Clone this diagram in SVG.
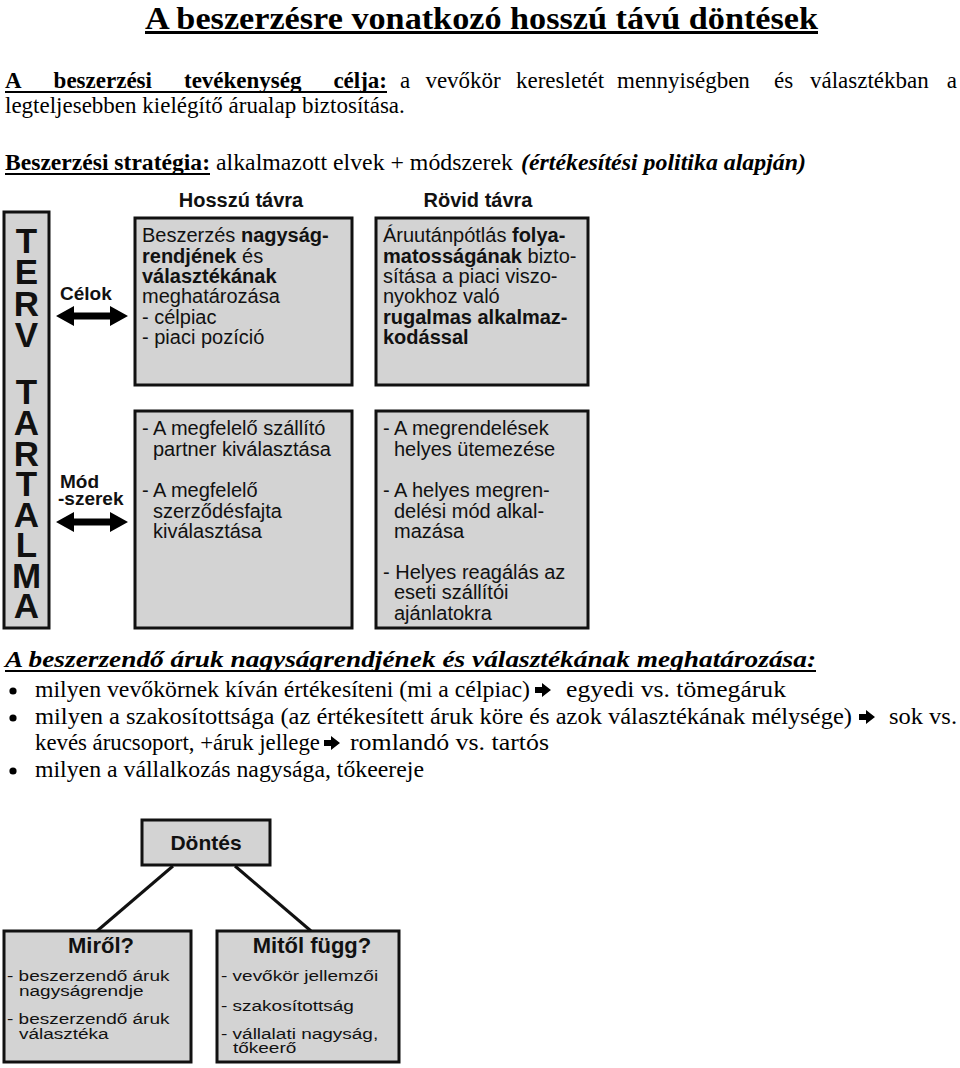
<svg xmlns="http://www.w3.org/2000/svg" width="960" height="1068" viewBox="0 0 960 1068">
<style>
.ser{font-family:"Liberation Serif","Times New Roman",serif;font-size:23px;fill:#000}
.b{font-weight:bold}
.i{font-style:italic}
.ar{font-family:"Liberation Sans",Arial,sans-serif;font-size:20px;fill:#111}
.sm{font-family:"Liberation Sans",Arial,sans-serif;font-size:19px;fill:#111}
.box{fill:#d3d3d3;stroke:#111;stroke-width:3}
.ln{stroke:#111;stroke-width:3;fill:none}
.dbl{fill:#000}
</style>
<defs>
<polygon id="rarrow" points="0,-3 7,-3 7,-7 16,0 7,7 7,3 0,3"/>
</defs>
<rect width="960" height="1068" fill="#fff"/>

<g id="header">
<text class="ser b" x="145" y="28.5" textLength="673" lengthAdjust="spacingAndGlyphs" style="font-size:31px">A beszerzésre vonatkozó hosszú távú döntések</text>
<rect x="145" y="31" width="673" height="3" fill="#000"/>
<text class="ser b" y="88"><tspan x="5">A</tspan><tspan x="53.6">beszerzési</tspan><tspan x="184">tevékenység</tspan><tspan x="333.4">célja:</tspan></text>
<rect x="5" y="91" width="382" height="2" fill="#000"/>
<text class="ser" y="88"><tspan x="400">a</tspan><tspan x="425.4">vevőkör</tspan><tspan x="516">keresletét</tspan><tspan x="617">mennyiségben</tspan><tspan x="774">és</tspan><tspan x="810">választékban</tspan><tspan x="946.8">a</tspan></text>
<text class="ser" x="5" y="113">legteljesebben kielégítő árualap biztosítása.</text>
<text class="ser b" x="5" y="170" textLength="205" lengthAdjust="spacingAndGlyphs">Beszerzési stratégia:</text>
<rect x="5" y="173" width="205" height="2" fill="#000"/>
<text class="ser" x="216" y="170" textLength="297" lengthAdjust="spacingAndGlyphs">alkalmazott elvek + módszerek</text>
<text class="ser b i" x="521" y="170" textLength="285" lengthAdjust="spacingAndGlyphs">(értékesítési politika alapján)</text>
</g>

<g id="col-headings">
<text class="ar" x="241" y="207" text-anchor="middle" font-weight="bold">Hosszú távra</text>
<text class="ar" x="478" y="207" text-anchor="middle" font-weight="bold">Rövid távra</text>
</g>

<g id="terv-tartalma">
<rect class="box" x="4" y="212" width="45" height="416"/>
<text class="ar" font-weight="bold" text-anchor="middle" style="font-size:35px"><tspan x="26.5" y="253">T</tspan><tspan x="26.5" y="284">E</tspan><tspan x="26.5" y="316">R</tspan><tspan x="26.5" y="347">V</tspan><tspan x="26.5" y="404">T</tspan><tspan x="26.5" y="435">A</tspan><tspan x="26.5" y="466">R</tspan><tspan x="26.5" y="496">T</tspan><tspan x="26.5" y="527">A</tspan><tspan x="26.5" y="557">L</tspan><tspan x="26.5" y="588">M</tspan><tspan x="26.5" y="618">A</tspan></text>
</g>

<g id="label-celok">
<text class="ar" x="60" y="300" font-weight="bold" style="font-size:19px">Célok</text>
</g>
<g id="label-modszerek">
<text class="ar" font-weight="bold" style="font-size:19px"><tspan x="60" y="488">Mód</tspan><tspan x="58" y="505">-szerek</tspan></text>
</g>

<g id="box-hosszu-celok">
<rect class="box" x="135" y="218" width="217" height="167"/>
<text class="ar" x="142" y="242">Beszerzés <tspan font-weight="bold">nagyság-</tspan></text>
<text class="ar" x="142" y="263"><tspan font-weight="bold">rendjének</tspan> és</text>
<text class="ar" x="142" y="283" font-weight="bold">választékának</text>
<text class="ar" x="142" y="303">meghatározása</text>
<text class="ar" x="142" y="324">- célpiac</text>
<text class="ar" x="142" y="344">- piaci pozíció</text>
</g>

<g id="box-rovid-celok">
<rect class="box" x="376" y="218" width="212" height="167"/>
<text class="ar" x="383" y="242">Áruutánpótlás <tspan font-weight="bold">folya-</tspan></text>
<text class="ar" x="383" y="263"><tspan font-weight="bold">matosságának</tspan> bizto-</text>
<text class="ar" x="383" y="283">sítása a piaci viszo-</text>
<text class="ar" x="383" y="303">nyokhoz való</text>
<text class="ar" x="383" y="324" font-weight="bold">rugalmas alkalmaz-</text>
<text class="ar" x="383" y="344" font-weight="bold">kodással</text>
</g>

<g id="box-hosszu-mod">
<rect class="box" x="135" y="411" width="217" height="217"/>
<text class="ar" x="142" y="435">- A megfelelő szállító</text>
<text class="ar" x="153" y="456">partner kiválasztása</text>
<text class="ar" x="142" y="497">- A megfelelő</text>
<text class="ar" x="153" y="518">szerződésfajta</text>
<text class="ar" x="153" y="538">kiválasztása</text>
</g>

<g id="box-rovid-mod">
<rect class="box" x="376" y="411" width="212" height="217"/>
<text class="ar" x="383" y="435">- A megrendelések</text>
<text class="ar" x="394" y="456">helyes ütemezése</text>
<text class="ar" x="383" y="497">- A helyes megren-</text>
<text class="ar" x="394" y="518">delési mód alkal-</text>
<text class="ar" x="394" y="538">mazása</text>
<text class="ar" x="383" y="579">- Helyes reagálás az</text>
<text class="ar" x="394" y="599">eseti szállítói</text>
<text class="ar" x="394" y="620">ajánlatokra</text>
</g>

<g id="section">
<text class="ser b i" x="5" y="667" textLength="811" lengthAdjust="spacingAndGlyphs" style="font-size:24px">A beszerzendő áruk nagyságrendjének és választékának meghatározása:</text>
<rect x="5" y="670" width="811" height="2" fill="#000"/>
<circle cx="13" cy="691" r="3.6" fill="#000"/>
<circle cx="13" cy="718" r="3.6" fill="#000"/>
<circle cx="13" cy="771" r="3.6" fill="#000"/>
<text class="ser" x="35" y="697" textLength="495" lengthAdjust="spacingAndGlyphs">milyen vevőkörnek kíván értékesíteni (mi a célpiac)</text>
<use href="#rarrow" x="535" y="690"/>
<text class="ser" x="566" y="697" textLength="220" lengthAdjust="spacingAndGlyphs">egyedi vs. tömegáruk</text>
<text class="ser" x="35" y="724" textLength="817" lengthAdjust="spacingAndGlyphs">milyen a szakosítottsága (az értékesített áruk köre és azok választékának mélysége)</text>
<use href="#rarrow" x="859" y="717"/>
<text class="ser" x="889" y="724" textLength="68" lengthAdjust="spacingAndGlyphs">sok vs.</text>
<text class="ser" x="35" y="750" textLength="285" lengthAdjust="spacingAndGlyphs">kevés árucsoport, +áruk jellege</text>
<use href="#rarrow" x="324" y="743"/>
<text class="ser" x="350" y="750" textLength="199" lengthAdjust="spacingAndGlyphs">romlandó vs. tartós</text>
<text class="ser" x="35" y="777" textLength="389" lengthAdjust="spacingAndGlyphs">milyen a vállalkozás nagysága, tőkeereje</text>
</g>

<g id="connectors">
<polygon class="dbl" points="56,316 74,306 74,312.5 110,312.5 110,306 128,316 110,326 110,319.5 74,319.5 74,326"/>
<polygon class="dbl" points="56,522 74,512 74,518.5 110,518.5 110,512 128,522 110,532 110,525.5 74,525.5 74,532"/>
<line class="ln" x1="173" y1="866" x2="97" y2="931"/>
<line class="ln" x1="235" y1="866" x2="311" y2="931"/>
</g>

<g id="node-dontes">
<rect class="box" x="142" y="820" width="128" height="45"/>
<text class="ar" x="206" y="850" text-anchor="middle" font-weight="bold" style="font-size:21px">Döntés</text>
</g>

<g id="node-mirol">
<rect class="box" x="4" y="931" width="187" height="131"/>
<text class="ar" x="101" y="953" text-anchor="middle" font-weight="bold" style="font-size:22px">Miről?</text>
<text class="sm" transform="translate(7,981) scale(1,0.78)">- beszerzendő áruk</text>
<text class="sm" transform="translate(19,996) scale(1,0.78)">nagyságrendje</text>
<text class="sm" transform="translate(7,1024) scale(1,0.78)">- beszerzendő áruk</text>
<text class="sm" transform="translate(19,1039) scale(1,0.78)">választéka</text>
</g>

<g id="node-mitol">
<rect class="box" x="217" y="931" width="182" height="131"/>
<text class="ar" x="312" y="953" text-anchor="middle" font-weight="bold" style="font-size:22px">Mitől függ?</text>
<text class="sm" transform="translate(221,981) scale(1,0.78)">- vevőkör jellemzői</text>
<text class="sm" transform="translate(221,1011) scale(1,0.78)">- szakosítottság</text>
<text class="sm" transform="translate(221,1039) scale(1,0.78)">- vállalati nagyság,</text>
<text class="sm" transform="translate(233,1053) scale(1,0.78)">tőkeerő</text>
</g>
</svg>
